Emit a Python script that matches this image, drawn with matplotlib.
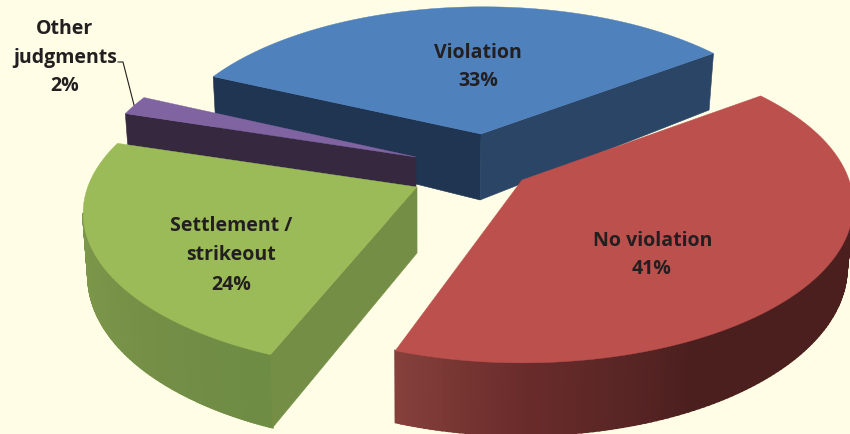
import numpy as np
import matplotlib
matplotlib.use("Agg")
import matplotlib.pyplot as plt
from matplotlib.patches import Polygon
from matplotlib.colors import to_rgb

plt.rcParams['font.family'] = ['Open Sans', 'DejaVu Sans']

# data
labels = ["No violation", "Settlement /\nstrikeout", "Other\njudgments", "Violation"]
values = [41, 24, 2, 33]

# view model: pie plane -> picture (fitted projective map)
ROT = 1.1711
AX, AY, BX, BY = -76.19, -151.09, 316.70, -36.91
PW, QW = 0.1586, 0.0345
DEPTH = 62.0
APEX_W = 0.94
CONV = 0.015
CONV_X = 420.0
apex = [(522, 180), (417, 187), (416, 157), (481, 134)]
gain = [1.0, 1.015, 0.985, 0.97]
yscale = [0.985, 0.975, 1.0, 0.98]
depth_k = [0.98, 1.0, 1.0, 1.0]
trim = [(-0.3, 1.9), (1.0, 0.0), (0.0, 0.0), (0.0, 0.0)]   # degrees

top_col = ["#BC504D", "#9BBB59", "#8064A2", "#4F81BD"]
wall_pos = [[0, .69, .77, .87, 1], [0, .25, .5, .75, 1], [0, 1], [0, 1]]
wall_col = [["#4C1F1F", "#4C1F1F", "#5A2625", "#6A2C2B", "#85403B"],
            ["#6E8C44", "#748E46", "#7A9449", "#7C984A", "#7F9B4B"],
            ["#35283F"] * 2,
            ["#1F3551"] * 2]
faces = {0: [], 1: [(0, "#748E45")], 2: [(0, "#35283F")],
         3: [(0, "#1F3551"), (-1, "#2A4565")]}

fractions = np.array(values) / sum(values) * 2 * np.pi
starts = np.concatenate([[0], np.cumsum(fractions)[:-1]])


def rim(t, k):
    th = ROT + t
    c, s = np.cos(th), np.sin(th)
    w = 1 + PW * c + QW * s
    px = (AX * c + BX * s) / w * gain[k] + apex[k][0]
    py = (AY * c + BY * s) / w * gain[k] * yscale[k] + apex[k][1]
    return np.column_stack([px, py]), w


def lower(p, w, k):
    q = np.array(p, float)
    q[:, 1] += DEPTH * depth_k[k] / w
    q[:, 0] -= (q[:, 0] - CONV_X) * CONV
    return q


fig = plt.figure(figsize=(8.5, 4.34), dpi=100, facecolor="#FFFDE5")
ax = fig.add_axes([0, 0, 1, 1])
ax.set_xlim(0, 850)
ax.set_ylim(434, 0)
ax.axis("off")

for k in [3, 2, 1, 0]:
    base = (3 - k) * 10
    a = starts[k] + np.radians(trim[k][0])
    b = starts[k] + fractions[k] - np.radians(trim[k][1])
    ts = np.linspace(a, b, 160)
    pts, w = rim(ts, k)
    low = lower(pts, w, k)
    ctr = np.array([apex[k]], float)
    ctr_low = lower(ctr, np.array([APEX_W]), k)
    stops = np.array([to_rgb(c) for c in wall_col[k]])
    for i in range(len(ts) - 1):
        if pts[i + 1, 0] >= pts[i, 0]:      # rim runs backwards: wall is hidden
            continue
        if pts[i, 1] < 150:                 # far side of the pie
            continue
        f = i / (len(ts) - 2)
        col = [np.interp(f, wall_pos[k], stops[:, n]) for n in range(3)]
        ax.add_patch(Polygon([pts[i], pts[i + 1], low[i + 1], low[i]],
                             fc=col, ec=col, lw=1.4, zorder=base + 1))
    for j, col in faces[k]:
        ax.add_patch(Polygon([ctr[0], pts[j], low[j], ctr_low[0]],
                             fc=col, ec=col, lw=0.4, zorder=base + 2))
    ax.add_patch(Polygon(np.vstack([ctr, pts]), fc=top_col[k], ec=top_col[k], lw=0.3,
                         zorder=base + 3))

txt = dict(ha="center", va="center", fontweight="bold", fontsize=14.0,
           color="#231F20", zorder=60)
ax.text(478, 53, labels[3], **txt)
ax.text(478, 81, f"{values[3]}%", **txt)
ax.text(653, 241, labels[0], **txt)
ax.text(652, 269, f"{values[0]}%", **txt)
for y, s in zip([226, 255], labels[1].split("\n")):
    ax.text(231, y, s, **txt)
ax.text(231, 285, f"{values[1]}%", **txt)
for y, s in zip([29, 58], labels[2].split("\n")):
    ax.text(65, y, s, **txt)
ax.text(65, 86, f"{values[2]}%", **txt)
ax.plot([118, 123, 134], [62, 62, 105], color="#231F20", lw=0.8, zorder=61)

fig.savefig("out.png", dpi=100, facecolor=fig.get_facecolor())
